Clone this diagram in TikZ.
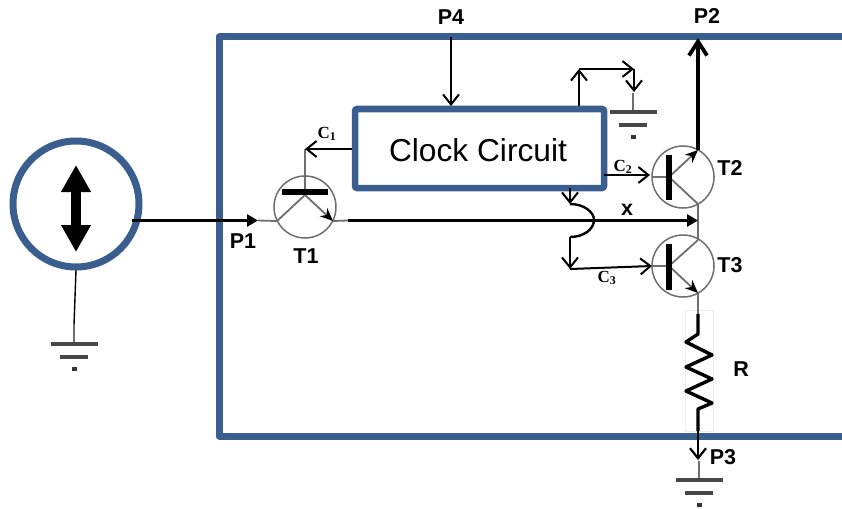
\documentclass[tikz,border=0pt]{standalone}
\usepackage{fontspec}
\setmainfont{Liberation Sans}
\newfontfamily\serifc{Liberation Serif}
\usetikzlibrary{arrows.meta}
\definecolor{frameblue}{HTML}{3A5F8F}
\definecolor{leadgray}{HTML}{6E6E6E}
\tikzset{
  frameline/.style={draw=frameblue,line width=7pt,line join=round},
  lbl/.style={font=\bfseries\fontsize{21.5}{23}\selectfont,inner sep=0pt},
  clab/.style={font=\serifc\bfseries\fontsize{17}{17}\selectfont,inner sep=0pt},
  trans/.style={circle,draw=leadgray,line width=1.5pt,minimum size=62pt,inner sep=0pt},
  lead/.style={draw=leadgray,line width=1.8pt},
  bar/.style={draw=black,line width=6pt},
  thin arrow/.style={draw=black,line width=2pt,-{Straight Barb[length=10pt,width=16pt,line width=2pt]}},
  main arrow/.style={draw=black,line width=3.8pt},
  gbar/.style={draw=black!72,line width=4pt},
  emit/.style={draw=leadgray,line width=1.8pt,-{Stealth[length=13pt,width=11pt,black]}},
}
\newcommand{\gnd}[3]{%
  \draw[lead,line width=2.4pt] (#1,#2) -- (#1,#2+19);
  \draw[gbar] (#1-23.5,#2+19) -- (#1+23.5,#2+19);
  \draw[gbar] (#1-14,#2+32) -- (#1+14,#2+32);
  \draw[black!80,line width=3.4pt] (#1-2.5,#2+44) -- (#1+2.5,#2+44);
}
\begin{document}
\begin{tikzpicture}[x=1pt,y=-1pt]
\useasboundingbox (0,0) rectangle (842,508);
\clip (0,0) rectangle (842,508);
% frame
\draw[frameline] (845,37) -- (219,37) -- (219,436) -- (845,436);
% source
\node[circle,draw=frameblue,line width=7pt,minimum size=126pt,inner sep=0pt] (src) at (76,204) {};
\coordinate (srcDown) at (76,270);
\coordinate (gndA) at (74,325);
\draw[line width=1.4pt] (srcDown) -- (gndA);
\gnd{74}{325}{a}
\coordinate (dblT) at (76,165);
\coordinate (dblB) at (76,252);
\draw[line width=10pt,{Triangle[length=27pt,width=28pt]}-{Triangle[length=27pt,width=28pt]}] (dblT) -- (dblB);
% T1
\node[trans] (T1) at (305,207) {};
\coordinate (t1in) at (258,220.5);
\coordinate (t1out) at (348,220.5);
\coordinate (t1base) at (305,192);
\coordinate (t1g) at (305,149);
\coordinate (t1j) at (305,195);
\coordinate (t1c) at (277,221);
\coordinate (t1e) at (333,221);
\draw[lead] (t1in) -- (t1c);
\draw[lead] (t1j) -- (t1c);
\draw[emit] (t1j) -- (t1e);
\draw[lead] (t1e) -- (t1out);
\draw[lead] (t1g) -- (t1base);
\draw[bar] (282,192) -- (328,192);
% clock
\node[draw=frameblue,line width=6.5pt,rounded corners=2pt,minimum width=249pt,minimum height=79pt,inner sep=0pt] (clk) at (479.5,148.5) {};
\node[inner sep=0pt,font=\fontsize{31.7}{34}\selectfont] (clkText) at (478,150.5) {Clock Circuit};
% source to T1
\coordinate (srcOut) at (132,220.5);
\draw[main arrow,-{Triangle[length=11pt,width=12pt]}] (srcOut) -- (t1in);
% T2, T3
\node[trans] (T2) at (683,177) {};
\node[trans] (T3) at (683,266) {};
\coordinate (t2b) at (669,177);
\coordinate (t2e) at (698,150);
\coordinate (t2c) at (698,204);
\coordinate (t3b) at (669,266);
\coordinate (t3c) at (698,240);
\coordinate (t3e) at (698,293);
\coordinate (rt) at (698,310);
\coordinate (xend) at (698,220.5);
\draw[lead] (652,177) -- (t2b);
\draw[lead] (652,266) -- (t3b);
\draw[emit] (t2b) -- (t2e);
\draw[lead] (t2b) -- (t2c);
\draw[lead] (t3b) -- (t3c);
\draw[emit] (t3b) -- (t3e);
\draw[lead,line width=2.4pt] (t2c) -- (t3c);
\draw[lead,line width=2.4pt] (t3e) -- (rt);
\draw[bar] (669,155) -- (669,200);
\draw[bar] (669,244) -- (669,290);
% x line
\draw[main arrow,-{Triangle[length=11pt,width=12pt]}] (t1out) -- (xend);
% P2
\coordinate (p2) at (698,38);
\draw[line width=4.4pt,-{Straight Barb[length=14pt,width=18pt,line width=3.8pt]}] (t2e) -- (p2);
% P4
\coordinate (p4top) at (451,37);
\draw[thin arrow] (p4top) -- (451,106);
% C1
\draw[thin arrow] (clk.west |- t1g) -- (t1g);
% top clock output to ground
\coordinate (u0) at (579,106);
\coordinate (u1) at (579,69);
\coordinate (u2) at (634,69);
\coordinate (u3) at (634,92);
\draw[thin arrow] (u0) -- (u1);
\draw[thin arrow] (u1) -- (u2);
\draw[thin arrow] (u2) -- (u3);
\gnd{633}{93}{b}
% C2
\coordinate (c2a) at (604,175);
\coordinate (c2b) at (650,175);
\draw[thin arrow] (c2a) -- (c2b);
% C3
\coordinate (c3a) at (570,188);
\coordinate (c3b) at (570,204);
\coordinate (c3c) at (570,237);
\coordinate (c3d) at (570,269);
\coordinate (c3e) at (652,266);
\draw[thin arrow] (c3a) -- (c3b);
\draw[line width=2.4pt] (c3b) .. controls (584,204) and (594,212) .. (594,220) .. controls (594,229) and (584,237) .. (c3c);
\draw[thin arrow] (c3c) -- (c3d);
\draw[thin arrow] (c3d) -- (c3e);
% resistor
\draw[black!7,line width=1pt] (685,310) rectangle (713,431);
\coordinate (r0) at (698,431);
\draw[lead,line width=2.4pt] (rt) -- (698,314);
\draw[black,line width=3.4pt,line join=round] (698,314) -- (698,334) -- (686,342) -- (712,355) -- (686,367) -- (712,379) -- (686,391) -- (712,403) -- (698,409) -- (r0);
% P3
\coordinate (p3) at (698,460);
\draw[line width=2.2pt,-{Straight Barb[length=10pt,width=16pt,line width=2.2pt]}] (r0) -- (p3);
\gnd{699}{461}{c}
% labels
\node[lbl] (lP4) at (451,17) {P4};
\node[lbl] (lP2) at (707,16) {P2};
\node[lbl] (lP1) at (243,241) {P1};
\node[lbl] (lT1) at (306,256) {T1};
\node[lbl] (lT2) at (730,168) {T2};
\node[lbl] (lT3) at (730,265) {T3};
\node[lbl] (lR) at (741,369) {R};
\node[lbl] (lP3) at (723,457) {P3};
\node[lbl] (lx) at (627,210) {x};
\node[clab] (lC1) at (327,134) {C\textsubscript{1}};
\node[clab] (lC2) at (623,167) {C\textsubscript{2}};
\node[clab] (lC3) at (607,278) {C\textsubscript{3}};
\end{tikzpicture}
\end{document}
